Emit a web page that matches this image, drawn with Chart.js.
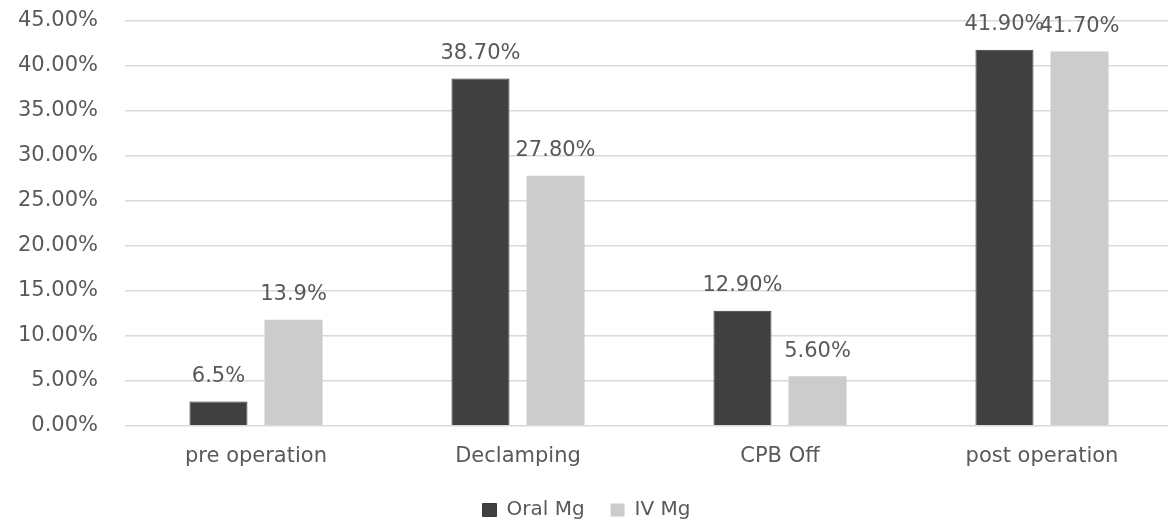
<!DOCTYPE html>
<html lang="en">
<head>
  <meta charset="UTF-8">
  <title>Mg chart</title>
  <script src="https://cdn.jsdelivr.net/npm/chart.js"></script>
  <style>
    html, body { margin: 0; padding: 0; background: #fff; overflow: hidden; }
    #wrap { width: 1173px; height: 520px; }
  </style>
</head>
<body>
  <div id="wrap"><canvas id="mgChart"></canvas></div>

  <script>
    const categories = ['pre operation', 'Declamping', 'CPB Off', 'post operation'];
    const oralValues = [2.7, 38.6, 12.8, 41.8];
    const ivValues = [11.8, 27.8, 5.5, 41.6];
    const oralLabels = ['6.5%', '38.70%', '12.90%', '41.90%'];
    const ivLabels = ['13.9%', '27.80%', '5.60%', '41.70%'];

    const textColor = '#595959';
    const fontFamily = '"DejaVu Sans", sans-serif';

    // text above each bar (labels as printed, not computed from the heights)
    const barLabels = {
      id: 'barLabels',
      afterDatasetsDraw(chart) {
        const ctx = chart.ctx;
        const texts = [oralLabels, ivLabels];
        ctx.save();
        ctx.font = '21px ' + fontFamily;
        ctx.fillStyle = textColor;
        ctx.textAlign = 'center';
        ctx.textBaseline = 'middle';
        chart.data.datasets.forEach((ds, i) => {
          chart.getDatasetMeta(i).data.forEach((bar, j) => {
            ctx.fillText(texts[i][j], bar.x, bar.y - 25);
          });
        });
        ctx.restore();
      }
    };

    Chart.defaults.font.family = fontFamily;
    Chart.defaults.font.size = 21;
    Chart.defaults.color = textColor;

    const ctx = document.getElementById('mgChart').getContext('2d');
    new Chart(ctx, {
      type: 'bar',
      data: {
        labels: categories,
        datasets: [
          { label: 'Oral Mg', data: oralValues, backgroundColor: '#404040', borderColor: '#3a3a3a', borderWidth: 1 },
          { label: 'IV Mg', data: ivValues, backgroundColor: '#cccccc' }
        ]
      },
      options: {
        responsive: true,
        maintainAspectRatio: false,
        animation: false,
        categoryPercentage: 0.573,
        barPercentage: 0.773,
        layout: { padding: { top: 21, left: 0, right: 0, bottom: -10 } },
        plugins: {
          tooltip: { enabled: false },
          legend: {
            position: 'bottom',
            labels: { boxWidth: 14, boxHeight: 13, padding: 26, color: textColor, font: { size: 20 } }
          }
        },
        scales: {
          x: {
            afterFit(scale) { scale.height = scale.height - 5; },
            grid: { display: false },
            border: { display: false },
            ticks: { padding: 10, color: textColor }
          },
          y: {
            min: 0,
            max: 45,
            afterFit(scale) {
              scale.width = 125;
              scale.paddingTop = 0;
              scale.paddingBottom = 0;
            },
            grid: { color: '#d9d9d9', lineWidth: 1.5, drawTicks: false },
            border: { display: false },
            ticks: {
              stepSize: 5,
              padding: 27,
              color: textColor,
              callback: v => v.toFixed(2) + '%'
            }
          }
        }
      },
      plugins: [barLabels]
    });
  </script>
</body>
</html>
